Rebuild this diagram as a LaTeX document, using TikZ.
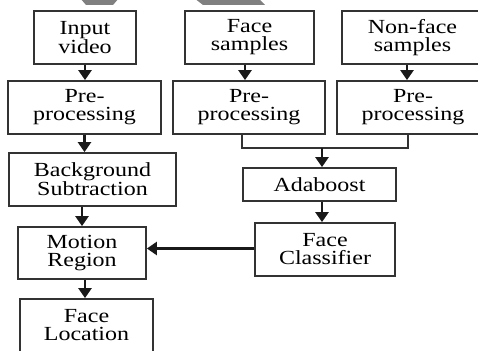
\documentclass[tikz,border=0pt]{standalone}
\usepackage{fontspec}
\setmainfont[FakeStretch=1.2]{Liberation Serif}
\usetikzlibrary{arrows.meta}
\begin{document}
\begin{tikzpicture}[x=1pt,y=-1pt,
  box/.style={draw=black!80,line width=1.8pt,inner sep=0pt,align=center,
    font=\fontsize{20}{18}\selectfont},
  arr/.style={draw=black!90,line width=2.6pt,-{Triangle[width=13pt,length=10pt]}},
  conn/.style={draw=black!80,line width=1.8pt},
  wm/.style={fill=black!50,draw=none}]
\useasboundingbox (0,0) rectangle (478,350);
\clip (0,0) rectangle (478,350);
% watermark fragments
\fill[wm] (80,-2) -- (119,-2) -- (113,5) -- (86,5) -- cycle;
\fill[wm] (194,-2) -- (258,-2) -- (265,5) -- (203,5) -- cycle;
% left column
\node[box,minimum width=102pt,minimum height=53pt] (iv) at (85,37.5) {Input\\video};
\node[box,minimum width=153pt,minimum height=53pt] (p1) at (84.5,107.5) {Pre-\\processing};
\node[box,minimum width=167pt,minimum height=53pt] (bg) at (92.5,179.5) {Background\\Subtraction};
\node[box,minimum width=128pt,minimum height=52pt] (mr) at (82,253) {Motion\\Region};
\node[box,minimum width=133pt,minimum height=53pt] (fl) at (86.5,325.5) {Face\\Location};
% right columns
\node[box,minimum width=129pt,minimum height=53pt] (fs) at (249.5,37.5) {Face\\samples};
\node[box,minimum width=141pt,minimum height=53pt] (nf) at (412.5,37.5) {Non-face\\samples};
\node[box,minimum width=152pt,minimum height=53pt] (p2) at (249,107.5) {Pre-\\processing};
\node[box,minimum width=152pt,minimum height=53pt] (p3) at (413,107.5) {Pre-\\processing};
\node[box,minimum width=153pt,minimum height=33pt] (ada) at (319.5,184.5) {Adaboost};
\node[box,minimum width=140pt,minimum height=53pt] (fc) at (325,249.5) {Face\\Classifier};
% arrows left
\draw[arr] (iv.south) -- (iv.south |- p1.north);
\draw[arr] (p1.south) -- (p1.south |- bg.north);
\draw[arr] (mr.north |- bg.south) -- (mr.north);
\draw[arr] ([xshift=3pt]mr.south) -- ([xshift=3pt]mr.south |- fl.north);
% arrows right
\draw[arr] ([xshift=-4.5pt]fs.south) -- ([xshift=-4.5pt]fs.south |- p2.north);
\draw[arr] ([xshift=-5.5pt]nf.south) -- ([xshift=-5.5pt]nf.south |- p3.north);
\coordinate (m) at (322,148);
\draw[conn] ([xshift=-7pt]p2.south) |- (m) -| ([xshift=-5pt]p3.south);
\draw[arr] (m) -- (m |- ada.north);
\draw[arr] ([xshift=2.5pt]ada.south) -- ([xshift=2.5pt]ada.south |- fc.north);
\draw[arr] ([yshift=1pt]fc.west) -- ([yshift=1pt]fc.west -| mr.east);
\end{tikzpicture}
\end{document}
